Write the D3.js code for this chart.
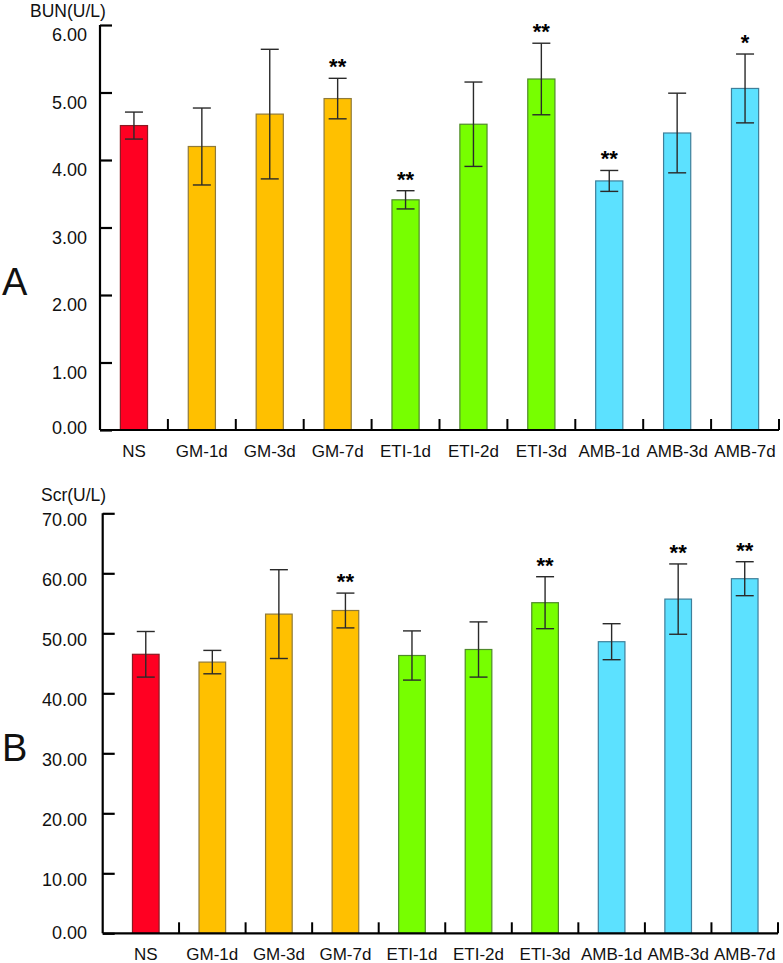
<!DOCTYPE html>
<html>
<head>
<meta charset="utf-8">
<script src="https://cdn.jsdelivr.net/npm/d3@7"></script>
<style>
  html, body { margin: 0; padding: 0; background: #fff; }
  svg { display: block; font-family: "Liberation Sans", Arial, sans-serif; }
</style>
</head>
<body>
<svg id="chart" width="783" height="963"></svg>
<script>
// ---------- data ----------
const categories = ["NS", "GM-1d", "GM-3d", "GM-7d", "ETI-1d", "ETI-2d", "ETI-3d", "AMB-1d", "AMB-3d", "AMB-7d"];
const groups = ["NS", "GM", "GM", "GM", "ETI", "ETI", "ETI", "AMB", "AMB", "AMB"];

const bunMean = [4.51, 4.20, 4.68, 4.91, 3.41, 4.53, 5.20, 3.69, 4.40, 5.06];
const bunErr  = [0.20, 0.57, 0.96, 0.30, 0.135, 0.625, 0.53, 0.155, 0.59, 0.51];
const bunSig  = ["", "", "", "**", "**", "", "**", "**", "", "*"];
const bunTicks = [0, 1, 2, 3, 4, 5, 6];

const scrMean = [46.5, 45.2, 53.2, 53.8, 46.3, 47.3, 55.1, 48.6, 55.7, 59.1];
const scrErr  = [3.8, 1.95, 7.4, 2.9, 4.1, 4.6, 4.33, 3.0, 5.86, 2.83];
const scrSig  = ["", "", "", "**", "", "", "**", "", "**", "**"];
const scrTicks = [0, 10, 20, 30, 40, 50, 60, 70];

// ---------- styles ----------
const fillScale = d3.scaleOrdinal().domain(["NS", "GM", "ETI", "AMB"])
  .range(["#ff0022", "#ffc000", "#77ff00", "#5ce1ff"]);
const strokeScale = d3.scaleOrdinal().domain(["NS", "GM", "ETI", "AMB"])
  .range(["#8a1a22", "#8f7a3a", "#4f8a2a", "#3f7f9a"]);

const svg = d3.select("#chart");

function drawPanel(opt) {
  const g = svg.append("g");
  const y = d3.scaleLinear().domain([0, opt.max]).range([opt.bottom, opt.top]);
  const x = d3.scaleBand().domain(categories).range([opt.bandLeft, opt.right])
    .paddingInner(0.6).paddingOuter(0.3);
  const step = x.step();

  // bars
  g.selectAll("rect.bar").data(categories).join("rect")
    .attr("class", "bar")
    .attr("x", d => x(d))
    .attr("width", x.bandwidth())
    .attr("y", (d, i) => y(opt.mean[i]))
    .attr("height", (d, i) => y(0) - y(opt.mean[i]))
    .attr("fill", (d, i) => fillScale(groups[i]))
    .attr("stroke", (d, i) => strokeScale(groups[i]))
    .attr("stroke-width", 1.2);

  // error bars
  const eb = g.selectAll("g.err").data(categories).join("g").attr("class", "err")
    .attr("stroke", "#2a2a2a").attr("stroke-width", 1.4);
  const cx = d => x(d) + x.bandwidth() / 2;
  eb.append("line")
    .attr("x1", cx).attr("x2", cx)
    .attr("y1", (d, i) => y(opt.mean[i] + opt.err[i]))
    .attr("y2", (d, i) => y(opt.mean[i] - opt.err[i]));
  eb.append("line")
    .attr("x1", d => cx(d) - 9).attr("x2", d => cx(d) + 9)
    .attr("y1", (d, i) => y(opt.mean[i] + opt.err[i]))
    .attr("y2", (d, i) => y(opt.mean[i] + opt.err[i]));
  eb.append("line")
    .attr("x1", d => cx(d) - 9).attr("x2", d => cx(d) + 9)
    .attr("y1", (d, i) => y(opt.mean[i] - opt.err[i]))
    .attr("y2", (d, i) => y(opt.mean[i] - opt.err[i]));

  // significance stars
  g.selectAll("text.sig").data(categories).join("text")
    .attr("class", "sig")
    .attr("x", cx)
    .attr("y", (d, i) => y(opt.mean[i] + opt.err[i]) - 4)
    .attr("text-anchor", "middle")
    .attr("font-size", 22).attr("font-weight", "bold")
    .text((d, i) => opt.sig[i]);

  // y axis
  const yAxis = d3.axisRight(y).tickValues(opt.ticks).tickSize(opt.tickLen).tickFormat("");
  const ya = g.append("g").attr("transform", `translate(${opt.axisX},0)`).call(yAxis);
  ya.select(".domain").attr("d", `M0,${opt.top}V${opt.bottom}`);
  ya.selectAll("path, line").attr("stroke", "#000").attr("stroke-width", 2.2);

  // y tick labels
  g.selectAll("text.ylab").data(opt.ticks).join("text")
    .attr("class", "ylab")
    .attr("x", opt.labelRight)
    .attr("y", d => y(d) + (d === 0 ? opt.zeroDy : opt.labDy))
    .attr("dominant-baseline", "central")
    .attr("text-anchor", "end")
    .attr("font-size", 18)
    .attr("fill", "#111")
    .text(d => d3.format(".2f")(d));

  // x axis
  const xa = g.append("g");
  xa.append("line")
    .attr("x1", opt.axisX).attr("x2", opt.right)
    .attr("y1", opt.bottom).attr("y2", opt.bottom)
    .attr("stroke", "#000").attr("stroke-width", 2.2);
  xa.selectAll("line.xt").data(categories).join("line")
    .attr("class", "xt")
    .attr("x1", d => x(d) - step * 0.3 + step).attr("x2", d => x(d) - step * 0.3 + step)
    .attr("y1", opt.bottom).attr("y2", opt.bottom - 11)
    .attr("stroke", "#000").attr("stroke-width", 2);
  xa.selectAll("text.xl").data(categories).join("text")
    .attr("class", "xl")
    .attr("x", cx)
    .attr("y", opt.bottom + 27)
    .attr("text-anchor", "middle")
    .attr("font-size", 17)
    .attr("fill", "#111")
    .text(d => d);

  // axis title
  g.append("text").attr("x", opt.titleX).attr("y", opt.titleY)
    .attr("font-size", 17.5).attr("fill", "#111").text(opt.title);
  // panel letter
  g.append("text").attr("x", 2).attr("y", opt.letterY)
    .attr("font-size", 38).attr("fill", "#111").text(opt.letter);
}

drawPanel({
  mean: bunMean, err: bunErr, sig: bunSig, ticks: bunTicks, max: 6,
  top: 25, bottom: 430, axisX: 100, bandLeft: 100, right: 779,
  tickLen: 12, labelRight: 87, labDy: 10, zeroDy: -2,
  title: "BUN(U/L)", titleX: 30, titleY: 17, letter: "A", letterY: 295
});

drawPanel({
  mean: scrMean, err: scrErr, sig: scrSig, ticks: scrTicks, max: 70,
  top: 513.3, bottom: 933.3, axisX: 102.7, bandLeft: 112.5, right: 778,
  tickLen: 12, labelRight: 87, labDy: 6.5, zeroDy: 0,
  title: "Scr(U/L)", titleX: 41, titleY: 501, letter: "B", letterY: 761
});
</script>
</body>
</html>
